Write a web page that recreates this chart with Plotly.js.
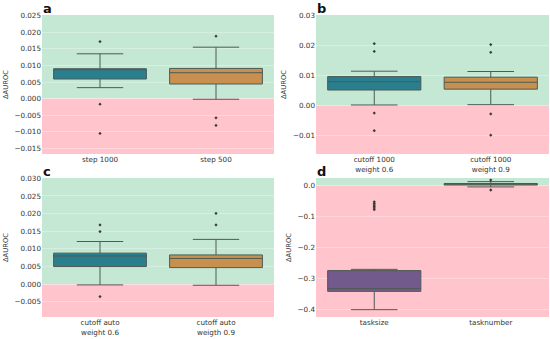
<!DOCTYPE html>
<html>
<head>
<meta charset="utf-8">
<script src="https://cdn.plot.ly/plotly-3.0.1.min.js"></script>
<style>html,body{margin:0;padding:0;background:#fff;}#chart{width:550px;height:339px;}</style>
</head>
<body>
<div id="chart"></div>
<script>
// Panel a
const catsA = ["step 1000", "step 500"];
const q1A = [0.0059, 0.0044];
const medA = [0.0088, 0.0078];
const q3A = [0.0090, 0.0091];
const loA = [0.0033, -0.0002];
const hiA = [0.0135, 0.0155];
const outA = [[0.0172, -0.0017, -0.0105], [0.0188, -0.0058, -0.0081]];

// Panel b
const catsB = ["cutoff 1000<br>weight 0.6", "cutoff 1000<br>weight 0.9"];
const q1B = [0.0051, 0.0054];
const medB = [0.0079, 0.0077];
const q3B = [0.0096, 0.0094];
const loB = [0.0001, 0.0002];
const hiB = [0.0114, 0.0113];
const outB = [[0.0206, 0.0180, -0.0026, -0.0085], [0.0203, 0.0177, -0.0029, -0.0100]];

// Panel c
const catsC = ["cutoff auto<br>weight 0.6", "cutoff auto<br>weigth 0.9"];
const q1C = [0.0050, 0.0047];
const medC = [0.0080, 0.0073];
const q3C = [0.0088, 0.0083];
const loC = [-0.0002, -0.0003];
const hiC = [0.0121, 0.0127];
const outC = [[0.0168, 0.0149, -0.0035], [0.0201, 0.0168]];

// Panel d
const catsD = ["tasksize", "tasknumber"];
const q1D = [-0.341, 0.002];
const medD = [-0.332, 0.005];
const q3D = [-0.274, 0.007];
const loD = [-0.400, -0.004];
const hiD = [-0.270, 0.013];
const outD = [[-0.052, -0.057, -0.062, -0.067, -0.072, -0.077], [0.018, -0.014]];

const colorsABC = ["#2a7f8e", "#c8904f"];
const colorsD = ["#735a8c", "#7b8c58"];
const lineColor = "#4e5a55";
const green = "#c5e8d5";
const pink = "#ffc4cc";

const ranges = {
  a: [-0.0167, 0.0252],
  b: [-0.0163, 0.0302],
  c: [-0.0093, 0.0301],
  d: [-0.4237, 0.0247]
};

const traces = [];
function addPanel(cats, q1, med, q3, lo, hi, outs, colors, ax) {
  const xa = ax === 1 ? "x" : "x" + ax;
  const ya = ax === 1 ? "y" : "y" + ax;
  for (let i = 0; i < cats.length; i++) {
    traces.push({
      type: "box", x: [cats[i]], q1: [q1[i]], median: [med[i]], q3: [q3[i]],
      lowerfence: [lo[i]], upperfence: [hi[i]],
      width: 0.8, whiskerwidth: 0.5, boxpoints: false,
      fillcolor: colors[i], line: {color: lineColor, width: 1},
      xaxis: xa, yaxis: ya, showlegend: false, hoverinfo: "skip"
    });
    traces.push({
      type: "scatter", mode: "markers", x: outs[i].map(() => cats[i]), y: outs[i],
      marker: {symbol: "diamond", size: 2.5, color: "#3a3a3a"},
      xaxis: xa, yaxis: ya, showlegend: false, hoverinfo: "skip"
    });
  }
}
addPanel(catsA, q1A, medA, q3A, loA, hiA, outA, colorsABC, 1);
addPanel(catsB, q1B, medB, q3B, loB, hiB, outB, colorsABC, 2);
addPanel(catsC, q1C, medC, q3C, loC, hiC, outC, colorsABC, 3);
addPanel(catsD, q1D, medD, q3D, loD, hiD, outD, colorsD, 4);

const W = 550, H = 339;
const xdomL = [42 / W, 274 / W];
const xdomR = [316 / W, 549 / W];
const ydomT = [1 - 154 / H, 1 - 15 / H];
const ydomB = [1 - 317 / H, 1 - 178 / H];

const tickFont = {family: "DejaVu Sans", size: 7.2, color: "#333"};
const titleFont = {family: "DejaVu Sans", size: 6.8, color: "#333"};

function xax(dom, anchor) {
  return {domain: dom, anchor: anchor, type: "category", showgrid: false, zeroline: false,
    showline: false, ticks: "", tickfont: tickFont, fixedrange: true};
}
function yax(dom, anchor, range, dtick, fmt) {
  return {domain: dom, anchor: anchor, range: range, dtick: dtick, tick0: 0, tickformat: fmt,
    showgrid: true, gridcolor: "rgba(255,255,255,0.3)", gridwidth: 1, zeroline: false,
    showline: false, ticks: "", tickfont: tickFont,
    title: {text: "ΔAUROC", font: titleFont, standoff: 5}};
}

const shapes = [];
function bg(ax, range) {
  const xr = ax === 1 ? "x domain" : "x" + ax + " domain";
  const yr = ax === 1 ? "y" : "y" + ax;
  shapes.push({type: "rect", xref: xr, yref: yr, x0: 0, x1: 1, y0: 0, y1: range[1],
    fillcolor: green, line: {width: 0}, layer: "below"});
  shapes.push({type: "rect", xref: xr, yref: yr, x0: 0, x1: 1, y0: range[0], y1: 0,
    fillcolor: pink, line: {width: 0}, layer: "below"});
}
bg(1, ranges.a); bg(2, ranges.b); bg(3, ranges.c); bg(4, ranges.d);

const letterFont = {family: "DejaVu Sans", size: 13, color: "#111"};
const annotations = [
  {text: "<b>a</b>", x: 41 / W, y: 1 - 8.5 / H},
  {text: "<b>b</b>", x: 315 / W, y: 1 - 8.5 / H},
  {text: "<b>c</b>", x: 41 / W, y: 1 - 171 / H},
  {text: "<b>d</b>", x: 315 / W, y: 1 - 171 / H}
].map(a => Object.assign(a, {xref: "paper", yref: "paper", xanchor: "left", yanchor: "middle",
  showarrow: false, font: letterFont}));

const layout = {
  width: W, height: H, margin: {l: 0, r: 0, t: 0, b: 0},
  paper_bgcolor: "#fff", plot_bgcolor: "rgba(0,0,0,0)",
  boxmode: "overlay", showlegend: false,
  xaxis: xax(xdomL, "y"), yaxis: yax(ydomT, "x", ranges.a, 0.005, ".3f"),
  xaxis2: xax(xdomR, "y2"), yaxis2: yax(ydomT, "x2", ranges.b, 0.01, ".2f"),
  xaxis3: xax(xdomL, "y3"), yaxis3: yax(ydomB, "x3", ranges.c, 0.005, ".3f"),
  xaxis4: xax(xdomR, "y4"), yaxis4: yax(ydomB, "x4", ranges.d, 0.1, ".1f"),
  shapes: shapes, annotations: annotations
};

Plotly.newPlot("chart", traces, layout, {staticPlot: true, displayModeBar: false});
</script>
</body>
</html>
